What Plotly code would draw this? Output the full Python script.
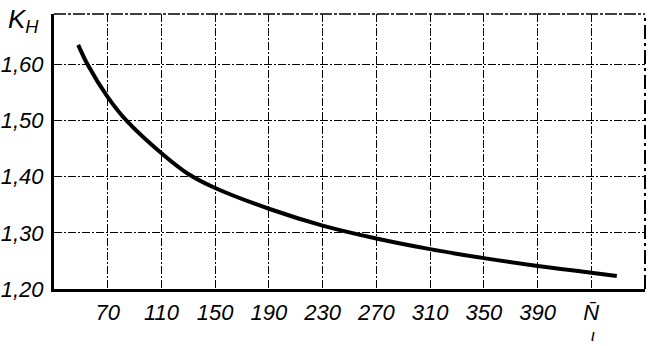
import plotly.graph_objects as go

N_vals = [48, 55, 70, 84, 110, 130, 150, 190, 230, 270, 310, 350, 390, 430, 449]
K_vals = [1.635, 1.60, 1.542, 1.50, 1.442, 1.405, 1.380, 1.343, 1.313, 1.290, 1.271, 1.255, 1.241, 1.229, 1.223]

x_ticks = [70, 110, 150, 190, 230, 270, 310, 350, 390, 430]
x_labels = ["70", "110", "150", "190", "230", "270", "310", "350", "390", "N̄"]
y_ticks = [1.20, 1.30, 1.40, 1.50, 1.60]
y_labels = ["1,20", "1,30", "1,40", "1,50", "1,60"]

FONT = "Liberation Sans, Arial, sans-serif"

fig = go.Figure()
fig.add_trace(go.Scatter(x=N_vals, y=K_vals, mode="lines",
                         line=dict(color="black", width=4, shape="spline", smoothing=1.0),
                         showlegend=False))

fig.update_layout(
    width=655, height=346,
    margin=dict(l=54, r=10, t=14, b=57),
    paper_bgcolor="white", plot_bgcolor="white",
    xaxis=dict(range=[30, 470], tickvals=x_ticks, ticktext=[f"<i>{t}</i>" for t in x_labels],
               showgrid=True, gridcolor="black", gridwidth=1, griddash="8px,2px,2px,2px",
               showline=True, linecolor="black", linewidth=3, zeroline=False,
               ticks="", ticklabelstandoff=2, automargin=False,
               tickfont=dict(family=FONT, size=22, color="black")),
    yaxis=dict(range=[1.20, 1.69], tickvals=y_ticks, ticktext=[f"<i>{t}</i>" for t in y_labels],
               showgrid=True, gridcolor="black", gridwidth=1, griddash="8px,2px,2px,2px",
               showline=True, linecolor="black", linewidth=3, zeroline=False,
               ticks="", ticklabelstandoff=3, automargin=False,
               tickfont=dict(family=FONT, size=22, color="black")),
    shapes=[
        dict(type="line", xref="paper", yref="paper", x0=0, x1=1, y0=1, y1=1,
             line=dict(color="black", width=1.5, dash="12px,2px,3px,2px")),
        dict(type="line", xref="paper", yref="paper", x0=1, x1=1, y0=0, y1=1,
             line=dict(color="black", width=2, dash="14px,4px,3px,4px")),
    ],
    annotations=[
        dict(text="<i>K<sub>H</sub></i>", xref="paper", yref="paper", x=-0.082, y=1.045,
             xanchor="left", yanchor="top", showarrow=False,
             font=dict(family=FONT, size=26, color="black")),
        dict(text="<i>ι</i>", xref="x", yref="paper", x=431, y=-0.17,
             xanchor="center", yanchor="middle", showarrow=False,
             font=dict(family=FONT, size=17, color="black")),
    ],
)

fig.write_html("out.html")
